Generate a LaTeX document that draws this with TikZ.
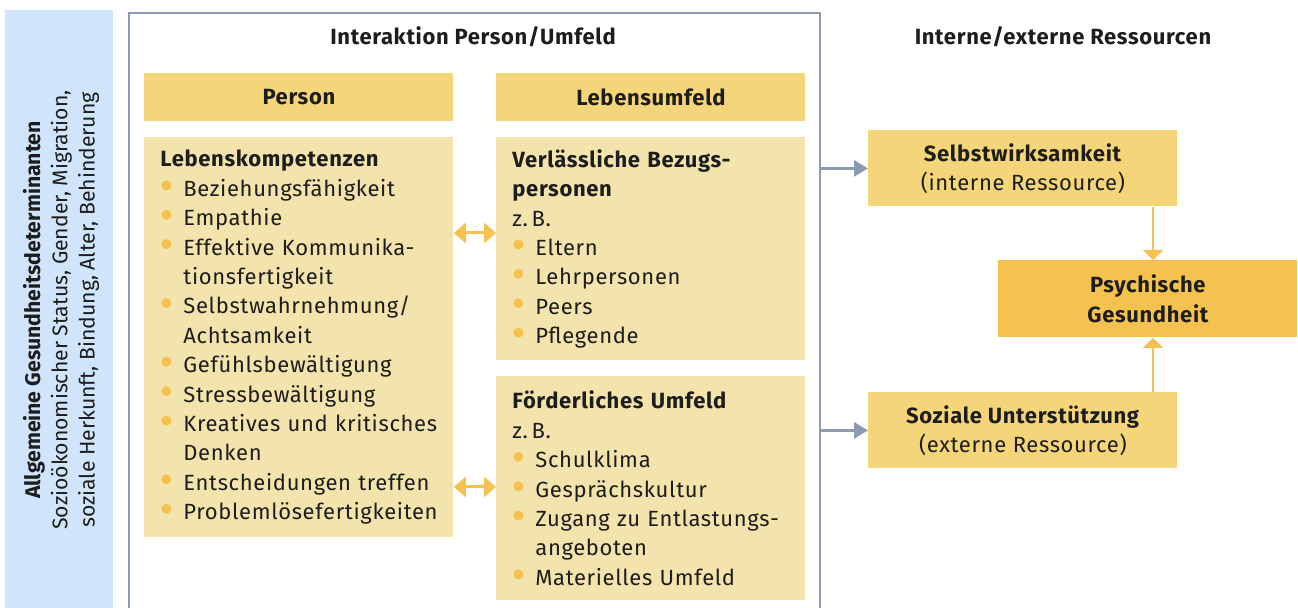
\documentclass[tikz,border=0pt]{standalone}
\usepackage{fontspec}
\setmainfont[LetterSpace=3]{Fira Sans}
\newfontfamily\barfont{Fira Sans}
\usetikzlibrary{arrows.meta}

\definecolor{barblue}{HTML}{D0E4FC}
\definecolor{framegray}{HTML}{8C9BB2}
\definecolor{hdryellow}{HTML}{F5D57A}
\definecolor{lightyellow}{HTML}{F3E3AC}
\definecolor{darkyellow}{HTML}{F5C24F}
\definecolor{ink}{HTML}{1D1D1B}

\newcommand{\basefont}{\fontsize{11}{14.7}\selectfont}
\newcommand{\bul}{\makebox[11.5pt][l]{\tikz[baseline=0pt,x=1pt,y=1pt]{\path (0,0);\fill[darkyellow] (3,5.5) circle (2.5);}}}
\newcommand{\ind}{\hspace*{11.5pt}}

\begin{document}
\begin{tikzpicture}[x=0.5pt,y=-0.5pt,
  every node/.style={text=ink, inner sep=0pt, font=\basefont},
  hdr/.style={fill=hdryellow, anchor=north west, minimum width=154.5pt, minimum height=24pt,
    font=\basefont\bfseries},
  body/.style={fill=lightyellow, anchor=north west, text width=138.5pt, minimum width=154.5pt,
    inner xsep=8pt, align=left},
  res/.style={fill=hdryellow, anchor=north west, minimum width=154.5pt, minimum height=38pt, align=center},
  grayarrow/.style={draw=framegray, line width=1.5pt, -{Triangle[length=7pt,width=8pt]}},
  dblarrow/.style={draw=darkyellow, line width=1.5pt, {Triangle[length=6pt,width=10pt]}-{Triangle[length=6pt,width=10pt]}},
  yarrow/.style={draw=darkyellow, line width=1pt, -{Triangle[length=5pt,width=10pt]}},
]
\clip (0,0) rectangle (1298,608);

% left bar
\node[fill=barblue, anchor=north west, minimum width=54pt, minimum height=310pt] (bar) at (5,10) {};
\node[rotate=90, align=center, font=\barfont\fontsize{10.6}{13.6}\selectfont] (barText) at (61,310)
  {\textbf{Allgemeine Gesundheitsdeterminanten}\\
   Sozioökonomischer Status, Gender, Migration,\\
   soziale Herkunft, Bindung, Alter, Behinderung};

% frame
\node[draw=framegray, line width=1pt, anchor=north west, minimum width=345.5pt, minimum height=320pt] (frame) at (128,12) {};

% titles
\node[font=\basefont\bfseries] (titleL) at (473,37) {Interaktion Person/Umfeld};
\node[font=\basefont\bfseries] (titleR) at (1063,37) {Interne/externe Ressourcen};

% headers
\node[hdr] (person) at (144,73) {Person};
\node[hdr] (umfeld) at (496,73) {Lebensumfeld};

% person
\node[body, minimum height=200pt] (komp) at (144,137)
  {\textbf{Lebenskompetenzen}\\
   \bul Beziehungsfähigkeit\\
   \bul Empathie\\
   \bul Effektive Kommunika-\\
   \ind tionsfertigkeit\\
   \bul Selbstwahrnehmung/\\
   \ind Achtsamkeit\\
   \bul Gefühlsbewältigung\\
   \bul Stressbewältigung\\
   \bul Kreatives und kritisches\\
   \ind Denken\\
   \bul Entscheidungen treffen\\
   \bul Problemlösefertigkeiten};

% umfeld
\node[body, minimum height=111.5pt] (verl) at (496,137)
  {\textbf{Verlässliche Bezugs-}\\
   \textbf{personen}\\
   z.\,B.\\
   \bul Eltern\\
   \bul Lehrpersonen\\
   \bul Peers\\
   \bul Pflegende};
\node[body, minimum height=112pt] (foerd) at (496,376)
  {\textbf{Förderliches Umfeld}\\
   z.\,B.\\
   \bul Schulklima\\
   \bul Gesprächskultur\\
   \bul Zugang zu Entlastungs-\\
   \ind angeboten\\
   \bul Materielles Umfeld};

% ressourcen
\node[res] (selbst) at (868,130) {\textbf{Selbstwirksamkeit}\\(interne Ressource)};
\node[res, fill=darkyellow, minimum width=149.5pt, minimum height=38.5pt, font=\basefont\bfseries] (psych) at (998,260) {Psychische\\Gesundheit};
\node[res] (soz) at (868,392) {\textbf{Soziale Unterstützung}\\(externe Ressource)};

% arrows
\coordinate (a1) at (475,233);
\coordinate (a2) at (475,487);
\coordinate (a3) at (1153,300);
\draw[dblarrow] (komp.east |- a1) -- (verl.west |- a1);
\draw[dblarrow] (komp.east |- a2) -- (foerd.west |- a2);
\draw[grayarrow] (frame.east |- selbst.west) -- (selbst.west);
\draw[grayarrow] (frame.east |- soz.west) -- (soz.west);
\draw[yarrow] (selbst.south -| a3) -- (psych.north -| a3);
\draw[yarrow] (soz.north -| a3) -- (psych.south -| a3);

\end{tikzpicture}
\end{document}
